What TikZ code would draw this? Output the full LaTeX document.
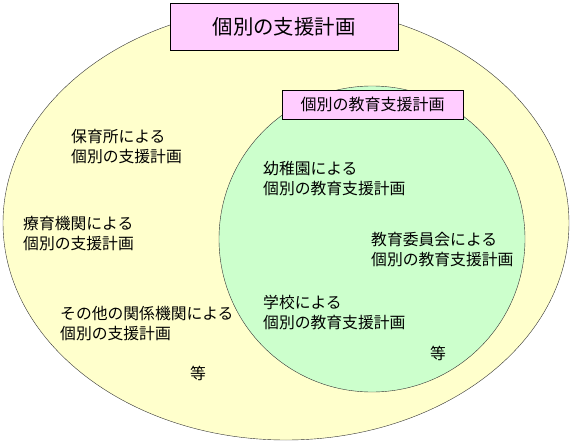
\documentclass[tikz,border=0pt]{standalone}
\usepackage{fontspec}
\setmainfont{Noto Sans CJK JP}
\usetikzlibrary{shapes.geometric}

\definecolor{planyellow}{HTML}{FFFFCC}
\definecolor{edugreen}{HTML}{CCFFCC}
\definecolor{labelpink}{HTML}{FFCCFF}

\begin{document}
\begin{tikzpicture}[x=1pt,y=-1pt,thin,
  set node/.style={draw=black!80,inner sep=0pt},
  title box/.style={draw=black,fill=labelpink,inner sep=0pt},
  plan text/.style={anchor=west,align=left,inner sep=0pt,font=\fontsize{15.8}{20}\selectfont}]

  \useasboundingbox (0,0) rectangle (573,444);

  \node[set node,ellipse,fill=planyellow,minimum width=566pt,minimum height=434pt] (support) at (286,223) {};
  \node[set node,circle,fill=edugreen,minimum size=306pt] (education) at (372,239) {};

  \node[title box,minimum width=228pt,minimum height=47pt,font=\fontsize{20.4}{24}\selectfont] (supporttitle) at (284,26.5) {個別の支援計画};
  \node[title box,minimum width=181pt,minimum height=29pt,font=\fontsize{16}{20}\selectfont] (educationtitle) at (372.5,104.5) {個別の教育支援計画};

  \node[plan text] (nursery) at (71,147) {保育所による\\個別の支援計画};
  \node[plan text] (therapy) at (23,233.5) {療育機関による\\個別の支援計画};
  \node[plan text] (others) at (60,323.5) {その他の関係機関による\\個別の支援計画};
  \node[plan text] (kinder) at (263,178.5) {幼稚園による\\個別の教育支援計画};
  \node[plan text] (board) at (371,250) {教育委員会による\\個別の教育支援計画};
  \node[plan text] (school) at (263,312) {学校による\\個別の教育支援計画};
  \node[plan text] (etcout) at (190,373) {等};
  \node[plan text] (etcin) at (430,353.5) {等};

\end{tikzpicture}
\end{document}
